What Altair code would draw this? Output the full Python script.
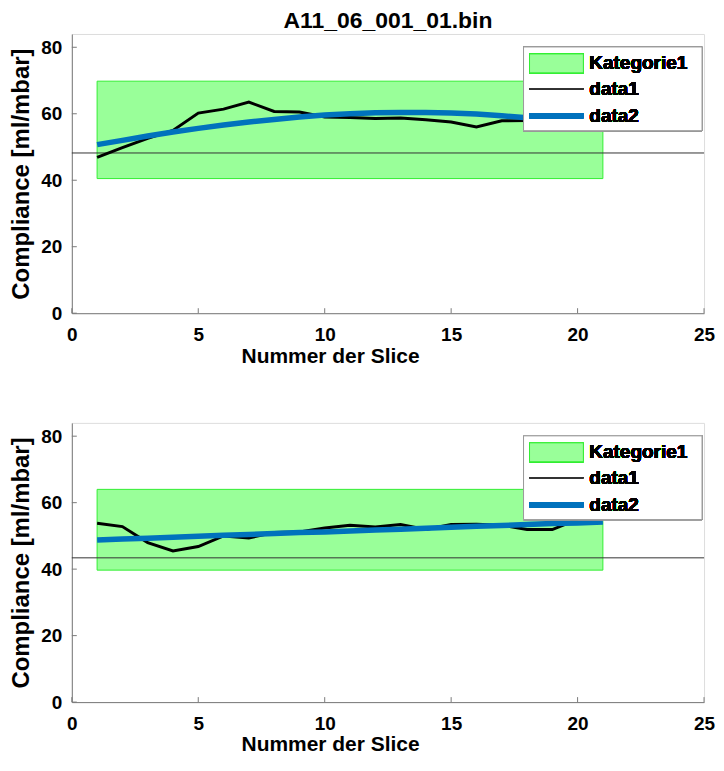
import altair as alt
import pandas as pd

# ---------------- data ----------------
slices = list(range(1, 22))

top_measured = [46.9, 49.8, 52.6, 55.0, 60.2, 61.4, 63.5, 60.7, 60.5, 59.0, 58.9,
                58.6, 58.7, 58.2, 57.5, 56.0, 57.9, 58.0, 58.5, 59.0, 59.5]
top_fit = [50.7, 52.0, 53.3, 54.5, 55.6, 56.6, 57.5, 58.3, 59.0, 59.6, 60.0,
           60.3, 60.4, 60.4, 60.2, 59.9, 59.4, 58.8, 58.0, 57.1, 56.0]
top_band = [40.5, 69.8]
top_ref = [48.2]

bot_measured = [53.8, 52.8, 48.0, 45.5, 46.8, 50.0, 49.4, 51.0, 51.2, 52.4, 53.2,
                52.7, 53.4, 51.9, 53.4, 53.5, 53.2, 51.9, 51.9, 55.0, 55.0]
bot_fit = [48.8, 49.1, 49.3, 49.6, 49.9, 50.2, 50.4, 50.7, 51.0, 51.2, 51.5,
           51.8, 52.0, 52.3, 52.6, 52.9, 53.1, 53.4, 53.7, 53.9, 54.2]
bot_band = [39.7, 64.0]
bot_ref = [43.4]

band_x = [1, 21]
x_ticks = [0, 5, 10, 15, 20, 25]
y_ticks = [0, 20, 40, 60, 80]
legend_labels = ["Kategorie1", "data1", "data2"]

title_text = "A11_06_001_01.bin"
x_title = "Nummer der Slice"
y_title = "Compliance [ml/mbar]"

# ---------------- style ----------------
FONT = "Liberation Sans"
W, H = 634, 280
AXIS_GRAY = "#7a7a7a"
BLUE = "#0072BD"
PATCH_FILL = "#99ff99"
PATCH_EDGE = "#33ee33"

xscale = alt.Scale(domain=[0, 25], nice=False, zero=False)
yscale = alt.Scale(domain=[0, 84], nice=False, zero=False)

x_axis = alt.Axis(values=x_ticks, title=x_title, grid=False, ticks=False, tickSize=0,
                  labelPadding=12, labelFlush=False, domainColor=AXIS_GRAY,
                  labelFont=FONT, labelFontWeight="bold", labelFontSize=19,
                  labelColor="black", titleFont=FONT, titleFontWeight="bold",
                  titleFontSize=21, titleColor="black", titleX=259, titleY=43,
                  titleAlign="center", titleBaseline="middle", format="d")
y_axis = alt.Axis(values=y_ticks, title=y_title, grid=False, ticks=False, tickSize=0,
                  labelPadding=10, labelFlush=False, titlePadding=7,
                  domainColor=AXIS_GRAY,
                  labelFont=FONT, labelFontWeight="bold", labelFontSize=19,
                  labelColor="black", titleFont=FONT, titleFontWeight="bold",
                  titleFontSize=24, titleColor="black", format="d")


def panel(measured, fit, band, ref, title=None):
    line_df = pd.DataFrame({"slice": slices, "measured": measured, "fit": fit})
    band_df = pd.DataFrame({"x1": [band_x[0]], "x2": [band_x[1]],
                            "y1": [band[0]], "y2": [band[1]]})
    ref_df = pd.DataFrame({"ref": ref})
    xt_df = pd.DataFrame({"t": x_ticks})
    yt_df = pd.DataFrame({"t": y_ticks})

    rect = alt.Chart(band_df).mark_rect(fill=PATCH_FILL, stroke=PATCH_EDGE,
                                        strokeWidth=1).encode(
        x=alt.X("x1:Q", scale=xscale, axis=x_axis),
        x2="x2:Q",
        y=alt.Y("y1:Q", scale=yscale, axis=y_axis),
        y2="y2:Q",
    )
    refline = alt.Chart(ref_df).mark_rule(color="#333333", strokeWidth=1).encode(
        y=alt.Y("ref:Q", scale=yscale)
    )
    meas = alt.Chart(line_df).mark_line(color="black", strokeWidth=3).encode(
        x=alt.X("slice:Q", scale=xscale),
        y=alt.Y("measured:Q", scale=yscale),
    )
    fitl = alt.Chart(line_df).mark_line(color=BLUE, strokeWidth=5.5).encode(
        x=alt.X("slice:Q", scale=xscale),
        y=alt.Y("fit:Q", scale=yscale),
    )
    yt = alt.Chart(yt_df).mark_rule(color=AXIS_GRAY, strokeWidth=1).encode(
        y=alt.Y("t:Q", scale=yscale),
        x=alt.value(0), x2=alt.value(5),
    )
    xt = alt.Chart(xt_df).mark_rule(color=AXIS_GRAY, strokeWidth=1).encode(
        x=alt.X("t:Q", scale=xscale),
        y=alt.value(H), y2=alt.value(H - 5),
    )

    # legend (drawn on top, like MATLAB's in-axes legend)
    lx0, lx1, ly0, ly1 = 453, 632, 13, 97
    rows = [29, 55, 82]
    leg_box = alt.Chart(line_df).mark_rect(fill="white", stroke="#9a9a9a",
                                           strokeWidth=1).encode(
        x=alt.value(lx0), x2=alt.value(lx1), y=alt.value(ly0), y2=alt.value(ly1)
    )
    leg_patch = alt.Chart(line_df).mark_rect(fill=PATCH_FILL, stroke=PATCH_EDGE,
                                             strokeWidth=1).encode(
        x=alt.value(lx0 + 6), x2=alt.value(lx0 + 60),
        y=alt.value(rows[0] - 9), y2=alt.value(rows[0] + 10)
    )
    leg_l1 = alt.Chart(line_df).mark_rule(color="#333333", strokeWidth=1).encode(
        x=alt.value(lx0 + 6), x2=alt.value(lx0 + 60), y=alt.value(rows[1])
    )
    leg_l2 = alt.Chart(line_df).mark_rule(color=BLUE, strokeWidth=5).encode(
        x=alt.value(lx0 + 6), x2=alt.value(lx0 + 60), y=alt.value(rows[2])
    )
    leg_texts = [
        alt.Chart(line_df).mark_text(align="left", baseline="middle", font=FONT,
                                     fontWeight="bold", fontSize=19,
                                     color="black").encode(
            x=alt.value(lx0 + 66), y=alt.value(r), text=alt.value(lab)
        )
        for lab, r in zip(legend_labels, rows)
    ]

    layer = alt.layer(rect, refline, meas, fitl, yt, xt, leg_box, leg_patch,
                      leg_l1, leg_l2, *leg_texts)
    props = dict(width=W, height=H)
    if title is not None:
        props["title"] = alt.TitleParams(title, font=FONT, fontWeight="bold",
                                         fontSize=23, anchor="middle", frame="group",
                                         offset=1, color="black")
    return layer.properties(**props)


top = panel(top_measured, top_fit, top_band, top_ref, title=title_text)
bottom = panel(bot_measured, bot_fit, bot_band, bot_ref)

chart = alt.vconcat(top, bottom, spacing=55).properties(
    padding={"left": 1, "top": 0, "right": 0, "bottom": 0}
).configure_view(stroke=None).configure(background="white")

chart.save("out.html", embed_options={"renderer": "svg", "actions": False})
